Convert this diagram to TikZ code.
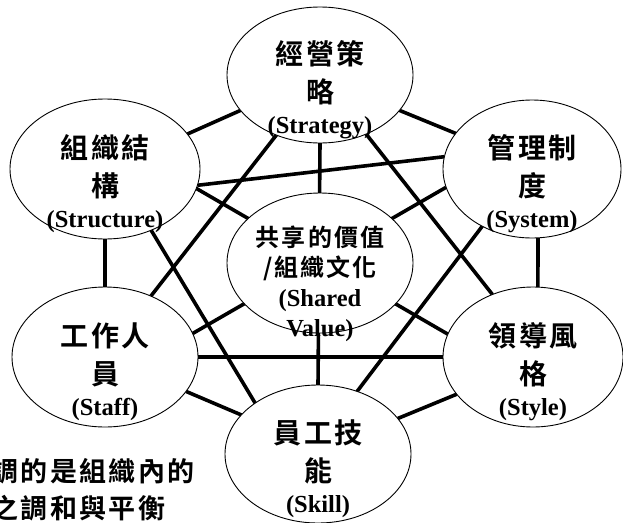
\documentclass[tikz,border=0pt]{standalone}
\usepackage{fontspec}
\setmainfont{Liberation Serif}
\newfontfamily\cjkf{Noto Sans CJK TC Bold}[LetterSpace=10]
\newfontfamily\cjks{Noto Sans CJK TC Bold}[LetterSpace=9]
\newfontfamily\cjkn{Noto Sans CJK TC Bold}[LetterSpace=9]
\newfontfamily\latf{Liberation Serif Bold}
\usetikzlibrary{shapes.geometric,backgrounds}
\newcommand\lat[1]{{\latf\fontsize{24.5pt}{24.5pt}\selectfont #1}}
\newcommand\ovtext[2]{\raisebox{#1}[0pt][0pt]{\makebox[0pt]{\parbox[t]{180pt}{\centering\lineskiplimit=-200pt #2\par}}}}
\tikzset{
  ov/.style={ellipse, draw, fill=white, line width=0.9pt, inner sep=0pt, outer sep=0pt, minimum height=139pt},
  link/.style={line width=3.6pt},
}
\begin{document}
\begin{tikzpicture}[x=1pt,y=-1pt]
\useasboundingbox (0,0) rectangle (623,522);
\clip (0,0) rectangle (623,522);
\node[ov, minimum width=186pt, minimum height=136pt] (St) at (320,75)
  {\ovtext{11pt}{\cjkf\fontsize{28}{38}\selectfont 經營策\\略\\[-7pt]\lat{(Strategy)}}};
\node[ov, minimum width=190pt, minimum height=140pt] (Str) at (105,169)
  {\ovtext{11pt}{\cjkf\fontsize{28}{38}\selectfont 組織結\\構\\[-7pt]\lat{(Structure)}}};
\node[ov, minimum width=178pt, minimum height=138pt] (Sys) at (532,169)
  {\ovtext{11pt}{\cjkf\fontsize{28}{38}\selectfont 管理制\\度\\[-7pt]\lat{(System)}}};
\node[ov, minimum width=186pt, minimum height=140pt] (Sh) at (320,263)
  {\ovtext{17pt}{\cjks\fontsize{24}{30}\selectfont 共享的價值\\/組織文化\\\lat{(Shared}\\\lat{Value)}}};
\node[ov, minimum width=186pt, minimum height=140pt] (Staff) at (105,357)
  {\ovtext{11pt}{\cjkf\fontsize{28}{38}\selectfont 工作人\\員\\[-7pt]\lat{(Staff)}}};
\node[ov, minimum width=180pt, minimum height=140pt] (Style) at (533,357)
  {\ovtext{11pt}{\cjkf\fontsize{28}{38}\selectfont 領導風\\格\\[-7pt]\lat{(Style)}}};
\node[ov, minimum width=186pt, minimum height=138pt] (Skill) at (318,454)
  {\ovtext{11pt}{\cjkf\fontsize{28}{38}\selectfont 員工技\\能\\[-7pt]\lat{(Skill)}}};
\node[anchor=base west, align=left, inner sep=0pt, font=\cjkn\fontsize{27}{37}\selectfont] (note) at (-9,518)
  {調的是組織內的\\之調和與平衡};
\begin{pgfonlayer}{background}
\fill[white] (0,0) rectangle (623,522);
\draw[link] (St.204.8) -- (Str.23.6);
\draw[link] (St.-24) -- (Sys.155.6);
\draw[link] (Sys.-85) -- (Style.86);
\draw[link] (Style.-154.7) -- (Skill.24.2);
\draw[link] (Skill.153.1) -- (Staff.-23.7);
\draw[link] (Str.south) -- (Staff.north);
\draw[link] (St.south) -- (Skill.north);
\draw[link] (Str.-12.3) -- (Style.165.7);
\draw[link] (Sys.-168.3) -- (Staff.15.3);
\draw[link] (St.-126) -- (Staff.53);
\draw[link] (St.-52.8) -- (Style.123.5);
\draw[link] (Str.-10.5) -- (Sys.172);
\draw[link] (Staff.east) -- (Style.west);
\draw[link] (Str.-53) -- (Skill.141.9);
\draw[link] (Sys.-131.8) -- (Skill.58);
\end{pgfonlayer}
\end{tikzpicture}
\end{document}
